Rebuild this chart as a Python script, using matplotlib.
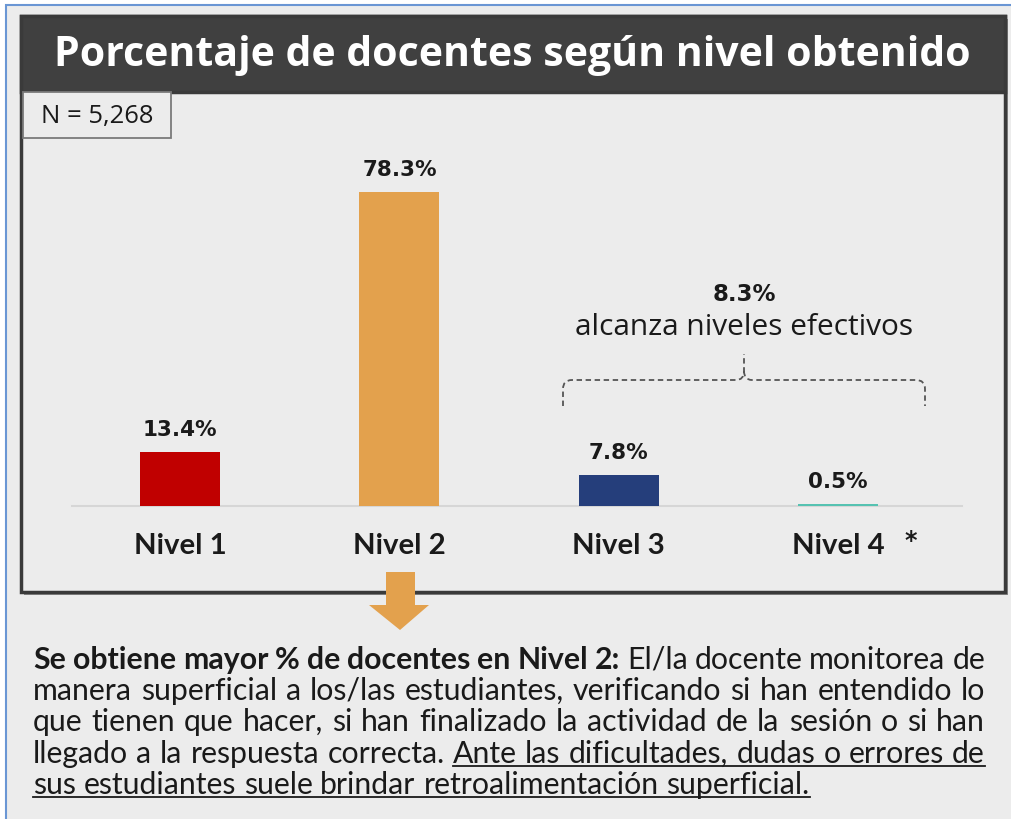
import matplotlib as mpl
mpl.use('Agg')
import matplotlib.pyplot as plt
from matplotlib.patches import Rectangle, Polygon, PathPatch
from matplotlib.path import Path

# Datos
niveles = ['Nivel 1', 'Nivel 2', 'Nivel 3', 'Nivel 4']
porcentajes = [13.4, 78.3, 7.8, 0.5]
colores = ['#c00000', '#e3a14d', '#253e7b', '#56c2b1']
efectivos = 8.3
n_total = '5,268'
titulo = 'Porcentaje de docentes según nivel obtenido'

# texto inferior: (texto, negrita, subrayado) por linea
cuerpo = [
    [('Se obtiene mayor % de docentes en Nivel 2:', True, False),
     ('El/la docente monitorea de', False, False)],
    [('manera superficial a los/las estudiantes, verificando si han entendido lo', False, False)],
    [('que tienen que hacer, si han finalizado la actividad de la sesión o si han', False, False)],
    [('llegado a la respuesta correcta.', False, False),
     ('Ante las dificultades, dudas o errores de', False, True)],
    [('sus estudiantes suele brindar retroalimentación superficial.', False, True)],
]

fig = plt.figure(figsize=(10.11, 8.20), dpi=100)
fig.patch.set_facecolor('white')
r = fig.canvas.get_renderer()

# ejes de fondo en pixeles
bg = fig.add_axes([0, 0, 1, 1])
bg.set_xlim(0, 1011)
bg.set_ylim(820, 0)
bg.axis('off')


def ajustar(t, ancho):
    w = t.get_window_extent(r).width
    t.set_fontsize(t.get_fontsize() * ancho / w)


# marco de la captura
bg.add_patch(Rectangle((6, 6), 1020, 830, facecolor='#ececec', edgecolor='#6a96d4', lw=1.5))
# panel con sombra
bg.add_patch(Rectangle((24, 20), 984, 576, facecolor='#8c8c8c', edgecolor='none'))
bg.add_patch(Rectangle((21, 17), 984, 576, facecolor='#ececec', edgecolor='#3a3a3a', lw=2.5))
bg.add_patch(Rectangle((21, 17), 984, 76, facecolor='#404040', edgecolor='#3a3a3a', lw=2.5))
bg.add_patch(Rectangle((23, 93), 148, 46, facecolor='#ececec', edgecolor='#7a7a7a', lw=1.3))

t = bg.text(512, 56, titulo, color='white', fontweight='bold', family='Open Sans',
            ha='center', va='center', fontsize=28)
ajustar(t, 915)

t = bg.text(97, 117, 'N = ' + n_total, color='#1a1a1a', family='Open Sans',
            ha='center', va='center', fontsize=14)
ajustar(t, 113)

# llave punteada
verts = [(563, 407), (563, 390), (563, 381), (572, 381), (736, 381), (744, 381), (744, 372), (744, 355),
         (744, 372), (744, 381), (752, 381), (916, 381), (925, 381), (925, 390), (925, 407)]
codes = [Path.MOVETO, Path.LINETO, Path.CURVE3, Path.CURVE3, Path.LINETO, Path.CURVE3, Path.CURVE3, Path.LINETO,
         Path.MOVETO, Path.CURVE3, Path.CURVE3, Path.LINETO, Path.CURVE3, Path.CURVE3, Path.LINETO]
bg.add_patch(PathPatch(Path(verts, codes), facecolor='none', edgecolor='#555555', lw=1.3,
                       linestyle=(0, (3, 2))))

bg.text(744, 295, f'{efectivos:.1f}%', fontweight='bold', family='DejaVu Sans', fontsize=16.5,
        ha='center', va='center', color='#1a1a1a')
t = bg.text(744, 328, 'alcanza niveles efectivos', family='Open Sans', fontsize=17,
            ha='center', va='center', color='#1a1a1a')
ajustar(t, 340)

# flecha
bg.add_patch(Polygon([(386, 573), (415, 573), (415, 606), (429, 606), (400, 631), (369, 606), (386, 606)],
                     closed=True, facecolor='#e3a14d', edgecolor='none'))

# barras
axb = fig.add_axes([72 / 1011, (820 - 507) / 820, 890 / 1011, 361 / 820])
axb.set_xlim(-0.4925, 3.565)
axb.set_ylim(0, 90)
axb.patch.set_alpha(0)
bars = axb.bar(range(len(niveles)), porcentajes, width=0.365, color=colores, zorder=3)
for s in ['top', 'right', 'left']:
    axb.spines[s].set_visible(False)
axb.spines['bottom'].set_color('#d6d6d6')
axb.spines['bottom'].set_linewidth(1.5)
axb.set_yticks([])
axb.set_xticks(range(len(niveles)), niveles)
axb.tick_params(axis='x', length=0, pad=19)
for b, v in zip(bars, porcentajes):
    axb.annotate(f'{v:.1f}%', (b.get_x() + b.get_width() / 2, v), xytext=(0, 16.5),
                 textcoords='offset points', ha='center', va='center', fontweight='bold',
                 family='DejaVu Sans', fontsize=15.5, color='#1a1a1a')
tmp = bg.text(0, 0, niveles[0], fontweight='bold', family='Lato', fontsize=16)
ajustar(tmp, 93)
fs_nivel = tmp.get_fontsize()
tmp.remove()
for lab in axb.get_xticklabels():
    lab.set_fontweight('bold')
    lab.set_family('Lato')
    lab.set_fontsize(fs_nivel)
    lab.set_color('#1a1a1a')
bg.text(911, 541, '*', fontweight='bold', family='DejaVu Sans', fontsize=17, ha='center',
        va='center', color='#1a1a1a')

# texto justificado
x0, x1 = 33, 985
bases = [669, 700, 731, 763, 794]
tmp = bg.text(0, 0, cuerpo[1][0][0], family='Lato', fontsize=10)
fs = 10 * 945 / tmp.get_window_extent(r).width
tmp.remove()
a = bg.text(0, 0, 'x x', family='Lato', fontsize=fs)
b = bg.text(0, 0, 'xx', family='Lato', fontsize=fs)
esp = a.get_window_extent(r).width - b.get_window_extent(r).width
a.remove()
b.remove()

for i, (segs, yb) in enumerate(zip(cuerpo, bases)):
    palabras = []
    for txt, neg, sub in segs:
        for w in txt.split(' '):
            palabras.append((w, neg, sub))
    textos = [bg.text(0, yb, w, family='Lato', fontsize=fs, fontweight='bold' if neg else 'normal',
                      va='baseline', ha='left', color='#1a1a1a') for w, neg, sub in palabras]
    anchos = [tt.get_window_extent(r).width for tt in textos]
    if i < len(cuerpo) - 1:
        gap = (x1 - x0 - sum(anchos)) / (len(palabras) - 1)
    else:
        gap = esp
    x = x0
    sub_ini = None
    sub_fin = None
    for tt, wd, (w, neg, sub) in zip(textos, anchos, palabras):
        tt.set_x(x)
        if sub:
            if sub_ini is None:
                sub_ini = x
            sub_fin = x + wd
        x += wd + gap
    if sub_ini is not None:
        bg.plot([sub_ini, sub_fin], [yb + 3.5, yb + 3.5], color='#1a1a1a', lw=1.3)

fig.savefig('out.png', dpi=100)
